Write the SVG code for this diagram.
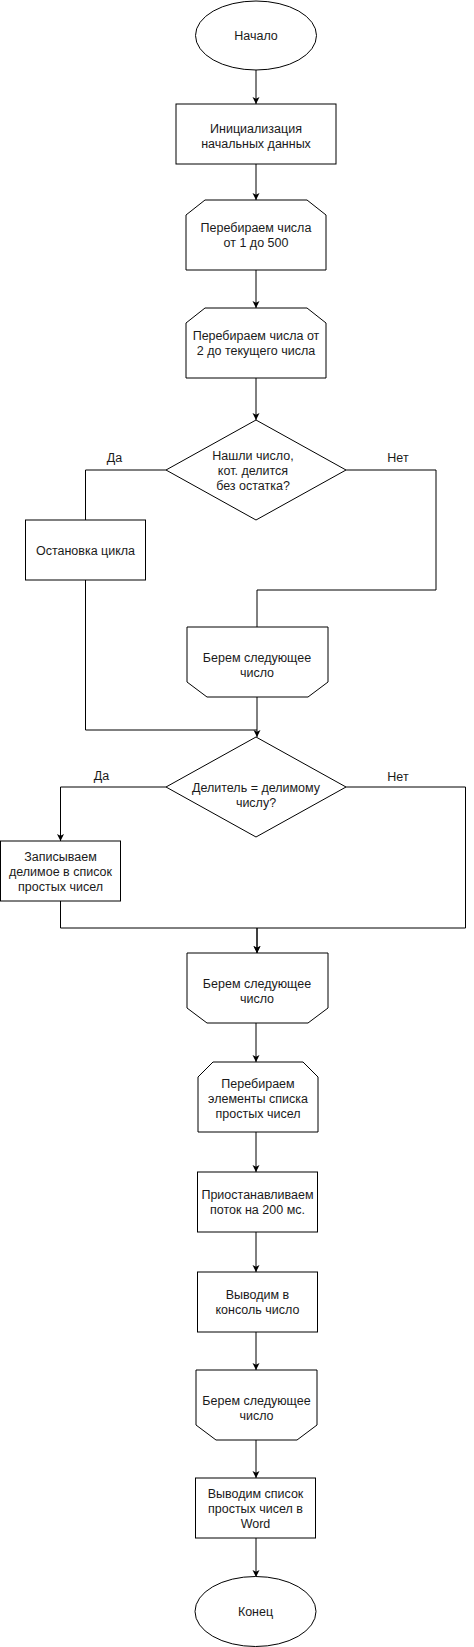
<svg xmlns="http://www.w3.org/2000/svg" width="474" height="1647" viewBox="0 0 474 1647">
<style>
.n{fill:#fff;stroke:#000;stroke-width:1}
.t{font-family:"Liberation Sans",Arial,sans-serif;font-size:12.5px;fill:#1a1a1a;text-anchor:middle}
.c{fill:none;stroke:#000;stroke-width:1}
.a{marker-end:url(#arr)}
</style>
<defs>
<marker id="arr" markerUnits="userSpaceOnUse" markerWidth="8" markerHeight="8" viewBox="0 0 8 8" refX="7" refY="4" orient="auto">
<path d="M0,0.5 L7,4 L0,7.5 L1.75,4 Z" fill="#000"/>
</marker>
</defs>
<rect width="474" height="1647" fill="#fff"/>
<g id="connectors">
<path class="c a" d="M256,70 V104"/>
<path class="c a" d="M256,164 V200"/>
<path class="c a" d="M256,270 V308"/>
<path class="c a" d="M256,378 V420"/>
<path class="c" d="M166,470 H85.5 V520"/>
<path class="c" d="M346,470 H436 V590 H257 V627"/>
<path class="c" d="M85.5,580 V730 H257"/>
<path class="c a" d="M257,697 V737"/>
<path class="c a" d="M166,787 H60.5 V841"/>
<path class="c a" d="M346,787 H465.5 V928 H257 V953"/>
<path class="c a" d="M60.5,901 V928 H257 V953"/>
<path class="c a" d="M256,1023 V1062"/>
<path class="c a" d="M256,1132 V1172"/>
<path class="c a" d="M256,1232 V1272"/>
<path class="c a" d="M256,1332 V1370"/>
<path class="c a" d="M256,1440 V1478"/>
<path class="c a" d="M256,1538 V1577"/>
<text class="t" x="114.5" y="462">Да</text>
<text class="t" x="398" y="462">Нет</text>
<text class="t" x="101.5" y="780">Да</text>
<text class="t" x="398" y="781">Нет</text>
</g>
<g id="start">
<ellipse class="n" cx="256" cy="35.5" rx="60.5" ry="34.5"/>
<text class="t" x="256" y="40">Начало</text>
</g>
<g id="init">
<rect class="n" x="176" y="104" width="160" height="60"/>
<text class="t" x="256" y="132.5">Инициализация</text>
<text class="t" x="256" y="147.5">начальных данных</text>
</g>
<g id="loop1">
<path class="n" d="M205,200 H307 L326,215 V270 H186 V215 Z"/>
<text class="t" x="256" y="232">Перебираем числа</text>
<text class="t" x="256" y="247">от 1 до 500</text>
</g>
<g id="loop2">
<path class="n" d="M205,308 H307 L326,323 V378 H186 V323 Z"/>
<text class="t" x="256" y="340">Перебираем числа от</text>
<text class="t" x="256" y="355">2 до текущего числа</text>
</g>
<g id="decision1">
<path class="n" d="M166,470 L256,420 L346,470 L256,520 Z"/>
<text class="t" x="253" y="460">Нашли число,</text>
<text class="t" x="253" y="475">кот. делится</text>
<text class="t" x="253" y="490">без остатка?</text>
</g>
<g id="stop">
<rect class="n" x="25.5" y="520" width="120" height="60"/>
<text class="t" x="85.5" y="555">Остановка цикла</text>
</g>
<g id="next1">
<path class="n" d="M187,627 H328 V682 L308,697 H207 L187,682 Z"/>
<text class="t" x="257" y="662">Берем следующее</text>
<text class="t" x="257" y="677">число</text>
</g>
<g id="decision2">
<path class="n" d="M166,787 L256,737 L346,787 L256,837 Z"/>
<text class="t" x="256" y="792">Делитель = делимому</text>
<text class="t" x="256" y="807">числу?</text>
</g>
<g id="record">
<rect class="n" x="0.5" y="841" width="120" height="60"/>
<text class="t" x="60.5" y="861">Записываем</text>
<text class="t" x="60.5" y="876">делимое в список</text>
<text class="t" x="60.5" y="891">простых чисел</text>
</g>
<g id="next2">
<path class="n" d="M187,953 H328 V1008 L308,1023 H207 L187,1008 Z"/>
<text class="t" x="257" y="988">Берем следующее</text>
<text class="t" x="257" y="1003">число</text>
</g>
<g id="loop3">
<path class="n" d="M213,1062 H303 L318,1077 V1132 H198 V1077 Z"/>
<text class="t" x="258" y="1088">Перебираем</text>
<text class="t" x="258" y="1103">элементы списка</text>
<text class="t" x="258" y="1118">простых чисел</text>
</g>
<g id="pause">
<rect class="n" x="197.5" y="1172" width="120" height="60"/>
<text class="t" x="257.5" y="1199">Приостанавливаем</text>
<text class="t" x="257.5" y="1214">поток на 200 мс.</text>
</g>
<g id="print">
<rect class="n" x="197.5" y="1272" width="120" height="60"/>
<text class="t" x="257.5" y="1298.5">Выводим в</text>
<text class="t" x="257.5" y="1313.5">консоль число</text>
</g>
<g id="next3">
<path class="n" d="M196,1370 H317 V1425 L297,1440 H216 L196,1425 Z"/>
<text class="t" x="256.5" y="1405">Берем следующее</text>
<text class="t" x="256.5" y="1420">число</text>
</g>
<g id="word">
<rect class="n" x="195.5" y="1478" width="120" height="60"/>
<text class="t" x="255.5" y="1498">Выводим список</text>
<text class="t" x="255.5" y="1513">простых чисел в</text>
<text class="t" x="255.5" y="1528">Word</text>
</g>
<g id="end">
<ellipse class="n" cx="255.5" cy="1611.5" rx="60.5" ry="35"/>
<text class="t" x="255.5" y="1616">Конец</text>
</g>
</svg>
